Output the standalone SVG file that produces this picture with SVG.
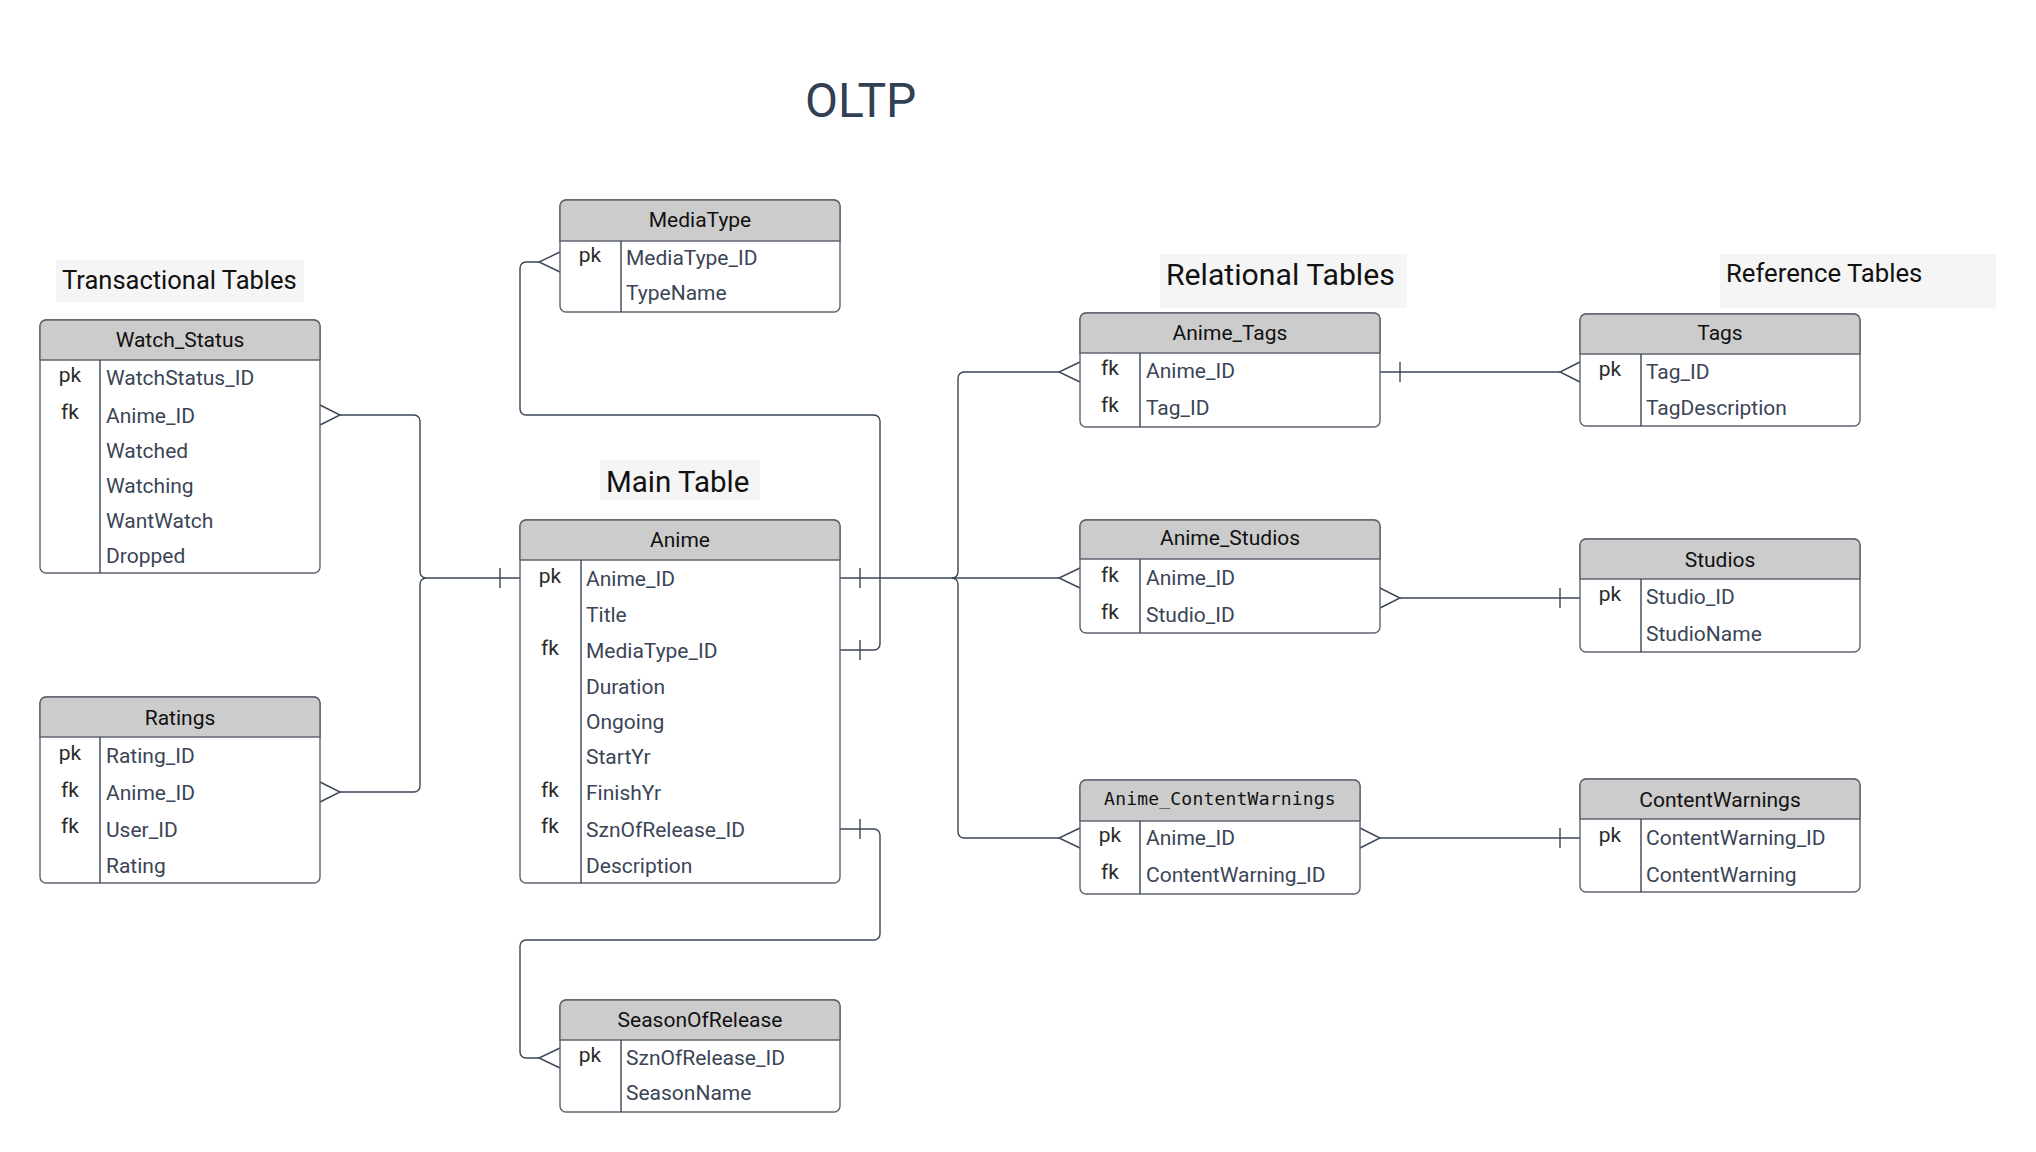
<svg xmlns="http://www.w3.org/2000/svg" width="2036" height="1152" viewBox="0 0 2036 1152">
<style>
.box{fill:#ffffff;stroke:#5d6470;stroke-width:1.4}
.hdr{fill:#cccccc;stroke:#5d6470;stroke-width:1.4}
.sep{stroke:#3a4556;stroke-width:1.4;fill:none}
.ttl{font-family:Roboto,"Liberation Sans",sans-serif;font-size:21px;fill:#111111;text-anchor:middle}
.mono{font-family:"DejaVu Sans Mono","Liberation Mono",monospace;font-size:18px;letter-spacing:0.2px;fill:#111111;text-anchor:middle}
.fld{font-family:Roboto,"Liberation Sans",sans-serif;font-size:21px;fill:#3a4556}
.key{font-family:Roboto,"Liberation Sans",sans-serif;font-size:21px;fill:#2a2a2a;text-anchor:middle}
.lbl{font-family:Roboto,"Liberation Sans",sans-serif;fill:#111111}
.lblbg{fill:#f5f5f5}
.con{fill:none;stroke:#3a4556;stroke-width:1.4}
</style>
<rect width="2036" height="1152" fill="#ffffff"/>

<text x="805" y="117" font-family="Roboto, 'Liberation Sans', sans-serif" font-size="48" fill="#333f52">OLTP</text>

<g id="label-transactional">
<rect class="lblbg" x="56" y="260" width="248" height="42"/>
<text class="lbl" x="62" y="289" font-size="25.5">Transactional Tables</text>
</g>
<g id="label-main">
<rect class="lblbg" x="600" y="460" width="160" height="40"/>
<text class="lbl" x="606" y="492" font-size="29.5">Main Table</text>
</g>
<g id="label-relational">
<rect class="lblbg" x="1160" y="254" width="247" height="54"/>
<text class="lbl" x="1166" y="285" font-size="30.2">Relational Tables</text>
</g>
<g id="label-reference">
<rect class="lblbg" x="1720" y="254" width="276" height="54"/>
<text class="lbl" x="1726" y="282" font-size="25.7">Reference Tables</text>
</g>

<g id="connectors">
<!-- Watch_Status / Ratings to Anime -->
<path class="con" d="M320,405 L340,415 L320,425"/>
<path class="con" d="M340,415 H414 A6,6 0 0 1 420,421 V572 A6,6 0 0 0 426,578 H520"/>
<path class="con" d="M320,782 L340,792 L320,802"/>
<path class="con" d="M340,792 H414 A6,6 0 0 0 420,786 V584 A6,6 0 0 1 426,578"/>
<path class="con" d="M500,568 V588"/>
<!-- Anime to MediaType -->
<path class="con" d="M560,252 L539,262 L560,272"/>
<path class="con" d="M539,262 H526 A6,6 0 0 0 520,268 V409 A6,6 0 0 0 526,415 H874 A6,6 0 0 1 880,421 V644 A6,6 0 0 1 874,650 H840"/>
<path class="con" d="M860,640 V660"/>
<!-- Anime to SeasonOfRelease -->
<path class="con" d="M840,829 H874 A6,6 0 0 1 880,835 V934 A6,6 0 0 1 874,940 H526 A6,6 0 0 0 520,946 V1052 A6,6 0 0 0 526,1058 H539"/>
<path class="con" d="M560,1048 L539,1058 L560,1068"/>
<path class="con" d="M860,819 V839"/>
<!-- Anime to relational tables -->
<path class="con" d="M840,578 H1059"/>
<path class="con" d="M860,568 V588"/>
<path class="con" d="M952,578 A6,6 0 0 0 958,572 V378 A6,6 0 0 1 964,372 H1059"/>
<path class="con" d="M952,578 A6,6 0 0 1 958,584 V832 A6,6 0 0 0 964,838 H1059"/>
<path class="con" d="M1080,362 L1059,372 L1080,382"/>
<path class="con" d="M1080,568 L1059,578 L1080,588"/>
<path class="con" d="M1080,828 L1059,838 L1080,848"/>
<!-- Anime_Tags to Tags -->
<path class="con" d="M1380,372 H1560"/>
<path class="con" d="M1400,362 V382"/>
<path class="con" d="M1580,362 L1560,372 L1580,382"/>
<!-- Anime_Studios to Studios -->
<path class="con" d="M1380,588 L1400,598 L1380,608"/>
<path class="con" d="M1400,598 H1580"/>
<path class="con" d="M1560,588 V608"/>
<!-- Anime_ContentWarnings to ContentWarnings -->
<path class="con" d="M1360,828 L1380,838 L1360,848"/>
<path class="con" d="M1380,838 H1580"/>
<path class="con" d="M1560,828 V848"/>
</g>

<g id="node-watch-status">
<rect class="box" x="40" y="320" width="280" height="253" rx="6"/>
<path class="hdr" d="M40,360 V326 A6,6 0 0 1 46,320 H314 A6,6 0 0 1 320,326 V360 Z"/>
<path class="sep" d="M100,360 V573"/>
<text class="ttl" x="180" y="347">Watch_Status</text>
<text class="key" x="70" y="382">pk</text>
<text class="key" x="70" y="419">fk</text>
<text class="fld" x="106" y="385">WatchStatus_ID</text>
<text class="fld" x="106" y="423">Anime_ID</text>
<text class="fld" x="106" y="458">Watched</text>
<text class="fld" x="106" y="493">Watching</text>
<text class="fld" x="106" y="528">WantWatch</text>
<text class="fld" x="106" y="563">Dropped</text>
</g>

<g id="node-ratings">
<rect class="box" x="40" y="697" width="280" height="186" rx="6"/>
<path class="hdr" d="M40,737 V703 A6,6 0 0 1 46,697 H314 A6,6 0 0 1 320,703 V737 Z"/>
<path class="sep" d="M100,737 V883"/>
<text class="ttl" x="180" y="725">Ratings</text>
<text class="key" x="70" y="760">pk</text>
<text class="key" x="70" y="797">fk</text>
<text class="key" x="70" y="833">fk</text>
<text class="fld" x="106" y="763">Rating_ID</text>
<text class="fld" x="106" y="800">Anime_ID</text>
<text class="fld" x="106" y="837">User_ID</text>
<text class="fld" x="106" y="873">Rating</text>
</g>

<g id="node-mediatype">
<rect class="box" x="560" y="200" width="280" height="112" rx="6"/>
<path class="hdr" d="M560,241 V206 A6,6 0 0 1 566,200 H834 A6,6 0 0 1 840,206 V241 Z"/>
<path class="sep" d="M621,241 V312"/>
<text class="ttl" x="700" y="227">MediaType</text>
<text class="key" x="590" y="262">pk</text>
<text class="fld" x="626" y="265">MediaType_ID</text>
<text class="fld" x="626" y="300">TypeName</text>
</g>

<g id="node-anime">
<rect class="box" x="520" y="520" width="320" height="363" rx="6"/>
<path class="hdr" d="M520,560 V526 A6,6 0 0 1 526,520 H834 A6,6 0 0 1 840,526 V560 Z"/>
<path class="sep" d="M581,560 V883"/>
<text class="ttl" x="680" y="547">Anime</text>
<text class="key" x="550" y="583">pk</text>
<text class="key" x="550" y="655">fk</text>
<text class="key" x="550" y="797">fk</text>
<text class="key" x="550" y="833">fk</text>
<text class="fld" x="586" y="586">Anime_ID</text>
<text class="fld" x="586" y="622">Title</text>
<text class="fld" x="586" y="658">MediaType_ID</text>
<text class="fld" x="586" y="694">Duration</text>
<text class="fld" x="586" y="729">Ongoing</text>
<text class="fld" x="586" y="764">StartYr</text>
<text class="fld" x="586" y="800">FinishYr</text>
<text class="fld" x="586" y="837">SznOfRelease_ID</text>
<text class="fld" x="586" y="873">Description</text>
</g>

<g id="node-seasonofrelease">
<rect class="box" x="560" y="1000" width="280" height="112" rx="6"/>
<path class="hdr" d="M560,1040 V1006 A6,6 0 0 1 566,1000 H834 A6,6 0 0 1 840,1006 V1040 Z"/>
<path class="sep" d="M621,1040 V1112"/>
<text class="ttl" x="700" y="1027">SeasonOfRelease</text>
<text class="key" x="590" y="1062">pk</text>
<text class="fld" x="626" y="1065">SznOfRelease_ID</text>
<text class="fld" x="626" y="1100">SeasonName</text>
</g>

<g id="node-anime-tags">
<rect class="box" x="1080" y="313" width="300" height="114" rx="6"/>
<path class="hdr" d="M1080,353 V319 A6,6 0 0 1 1086,313 H1374 A6,6 0 0 1 1380,319 V353 Z"/>
<path class="sep" d="M1140,353 V427"/>
<text class="ttl" x="1230" y="340">Anime_Tags</text>
<text class="key" x="1110" y="375">fk</text>
<text class="key" x="1110" y="412">fk</text>
<text class="fld" x="1146" y="378">Anime_ID</text>
<text class="fld" x="1146" y="415">Tag_ID</text>
</g>

<g id="node-anime-studios">
<rect class="box" x="1080" y="520" width="300" height="113" rx="6"/>
<path class="hdr" d="M1080,559 V526 A6,6 0 0 1 1086,520 H1374 A6,6 0 0 1 1380,526 V559 Z"/>
<path class="sep" d="M1140,559 V633"/>
<text class="ttl" x="1230" y="545">Anime_Studios</text>
<text class="key" x="1110" y="582">fk</text>
<text class="key" x="1110" y="619">fk</text>
<text class="fld" x="1146" y="585">Anime_ID</text>
<text class="fld" x="1146" y="622">Studio_ID</text>
</g>

<g id="node-anime-contentwarnings">
<rect class="box" x="1080" y="780" width="280" height="114" rx="6"/>
<path class="hdr" d="M1080,821 V786 A6,6 0 0 1 1086,780 H1354 A6,6 0 0 1 1360,786 V821 Z"/>
<path class="sep" d="M1140,821 V894"/>
<text class="mono" x="1220" y="805">Anime_ContentWarnings</text>
<text class="key" x="1110" y="842">pk</text>
<text class="key" x="1110" y="879">fk</text>
<text class="fld" x="1146" y="845">Anime_ID</text>
<text class="fld" x="1146" y="882">ContentWarning_ID</text>
</g>

<g id="node-tags">
<rect class="box" x="1580" y="314" width="280" height="112" rx="6"/>
<path class="hdr" d="M1580,354 V320 A6,6 0 0 1 1586,314 H1854 A6,6 0 0 1 1860,320 V354 Z"/>
<path class="sep" d="M1641,354 V426"/>
<text class="ttl" x="1720" y="340">Tags</text>
<text class="key" x="1610" y="376">pk</text>
<text class="fld" x="1646" y="379">Tag_ID</text>
<text class="fld" x="1646" y="415">TagDescription</text>
</g>

<g id="node-studios">
<rect class="box" x="1580" y="539" width="280" height="113" rx="6"/>
<path class="hdr" d="M1580,579 V545 A6,6 0 0 1 1586,539 H1854 A6,6 0 0 1 1860,545 V579 Z"/>
<path class="sep" d="M1641,579 V652"/>
<text class="ttl" x="1720" y="567">Studios</text>
<text class="key" x="1610" y="601">pk</text>
<text class="fld" x="1646" y="604">Studio_ID</text>
<text class="fld" x="1646" y="641">StudioName</text>
</g>

<g id="node-contentwarnings">
<rect class="box" x="1580" y="779" width="280" height="113" rx="6"/>
<path class="hdr" d="M1580,819 V785 A6,6 0 0 1 1586,779 H1854 A6,6 0 0 1 1860,785 V819 Z"/>
<path class="sep" d="M1641,819 V892"/>
<text class="ttl" x="1720" y="807">ContentWarnings</text>
<text class="key" x="1610" y="842">pk</text>
<text class="fld" x="1646" y="845">ContentWarning_ID</text>
<text class="fld" x="1646" y="882">ContentWarning</text>
</g>
</svg>
